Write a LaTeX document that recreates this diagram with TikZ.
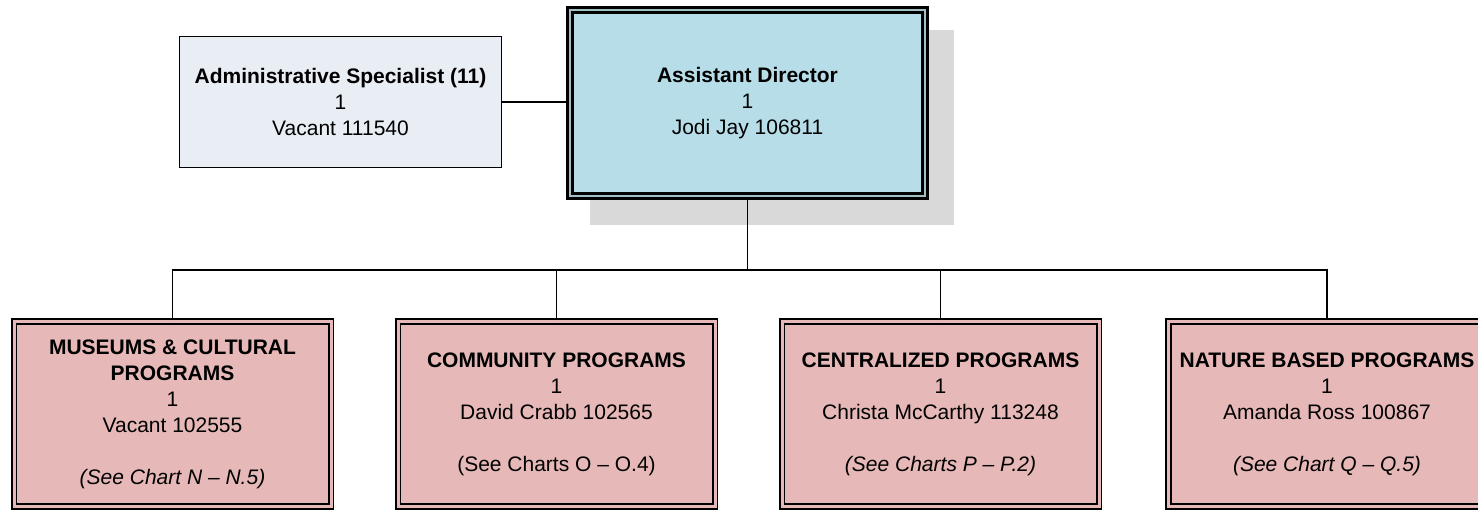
\documentclass[tikz,border=0pt]{standalone}
\usepackage{fontspec}
\setmainfont{Liberation Sans}
\definecolor{adfill}{HTML}{B7DEE8}
\definecolor{adgap}{HTML}{A3BFC6}
\definecolor{specfill}{HTML}{E9EDF4}
\definecolor{progfill}{HTML}{E6B9B8}
\definecolor{shadowgray}{HTML}{D9D9D9}
\tikzset{
  chart/.style={font=\fontsize{21}{26}\selectfont, align=center, inner sep=0pt, rectangle},
  headbox/.style={chart, fill=adfill, draw=black, line width=3pt, double=adgap, double distance=1.5pt, minimum width=355pt, minimum height=186pt},
  specbox/.style={chart, fill=specfill, draw=black, line width=1.5pt, minimum width=322pt, minimum height=131pt},
  progbox/.style={chart, fill=progfill, draw=black, line width=1.8pt, double=progfill, double distance=3pt, minimum width=317pt, minimum height=185.5pt},
  link/.style={draw=black, line width=1.5pt}
}
\begin{document}
\begin{tikzpicture}[x=1pt,y=-1pt]
\useasboundingbox (0,0) rectangle (1478,510);
% shadow
\fill[shadowgray] (590,30) rectangle (954,225);
% nodes
\node[headbox] (ad) at (747.5,103) {\textbf{Assistant Director}\\1\\Jodi Jay 106811};
\node[specbox] (spec) at (340.5,102) {\textbf{Administrative Specialist (11)}\\1\\Vacant 111540};
\node[progbox] (mus) at (172.5,414) {\textbf{MUSEUMS \& CULTURAL}\\\textbf{PROGRAMS}\\1\\Vacant 102555\\[26pt]\textit{(See Chart N – N.5)}};
\node[progbox] (com) at (556.5,414) {\textbf{COMMUNITY PROGRAMS}\\1\\David Crabb 102565\\[26pt](See Charts O – O.4)};
\node[progbox] (cen) at (940.5,414) {\textbf{CENTRALIZED PROGRAMS}\\1\\Christa McCarthy 113248\\[26pt]\textit{(See Charts P – P.2)}};
\node[progbox] (nat) at (1327,414) {\textbf{NATURE BASED PROGRAMS}\\1\\Amanda Ross 100867\\[26pt]\textit{(See Chart Q – Q.5)}};
% connectors
\coordinate (bus) at (747.5,270);
\draw[link] (spec.east) -- (spec.east -| ad.west);
\draw[link] (ad.south) -- (bus);
\draw[link] (mus.north) -- (mus.north |- bus) -- (nat.north |- bus) -- (nat.north);
\draw[link] (com.north) -- (com.north |- bus);
\draw[link] (cen.north) -- (cen.north |- bus);
\end{tikzpicture}
\end{document}
